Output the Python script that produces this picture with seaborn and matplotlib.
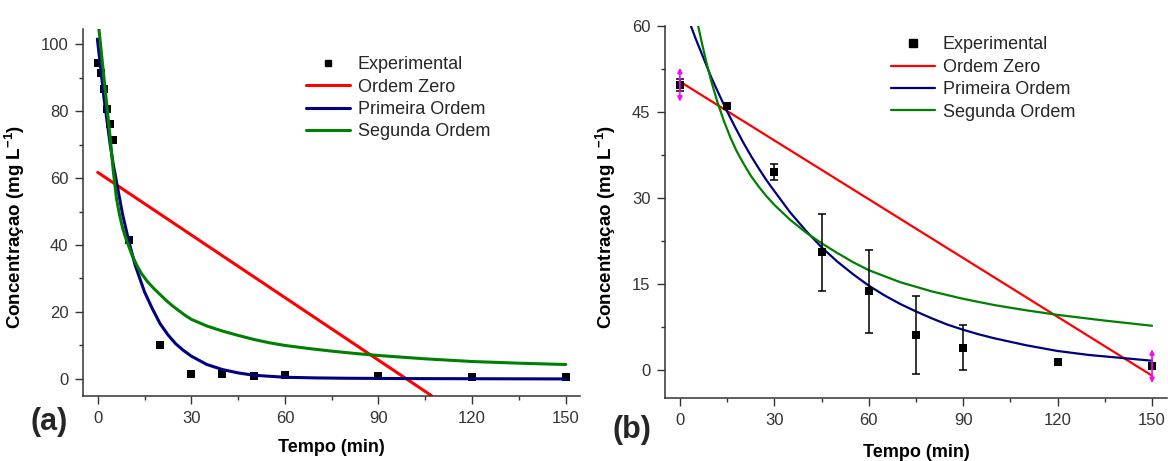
import numpy as np
import pandas as pd
import matplotlib
matplotlib.use("Agg")
import matplotlib.pyplot as plt
from matplotlib.ticker import MultipleLocator
from matplotlib.lines import Line2D
import seaborn as sns

sns.set_style("ticks")
plt.rcParams['font.family'] = ['Liberation Sans', 'DejaVu Sans']
plt.rcParams['mathtext.fontset'] = 'custom'
plt.rcParams['mathtext.rm'] = 'Liberation Sans'
plt.rcParams['mathtext.bf'] = 'Liberation Sans:bold'

# ---------------- Panel (a) data ----------------
a_exp_t = [0, 1, 2, 3, 4, 5, 10, 20, 30, 40, 50, 60, 90, 120, 150]
a_exp_c = [94.5, 91.4, 86.6, 80.7, 76.0, 71.4, 41.6, 10.1, 1.5, 1.5, 1.0, 1.3, 0.9, 0.6, 0.5]

a_zero_t = [0, 30, 60, 90, 107]
a_zero_c = [61.7, 43.0, 24.3, 5.6, -5.0]

a_first_t = [-0.1, 1, 2, 3, 4, 5, 6, 7, 8, 9, 10, 11, 12, 13.5, 15, 17.5, 20, 22.5, 25,
             27.5, 30, 35, 40, 45, 50, 55, 60, 70, 80, 100, 150]
a_first_c = [101.5, 92.5, 84, 77, 70, 64, 59, 54, 49, 45, 41, 37.5, 34, 30, 26, 21, 16.5,
             13.2, 10.5, 8.5, 6.8, 4.3, 2.8, 1.8, 1.1, 0.8, 0.5, 0.3, 0.2, 0.1, 0.0]

a_second_t = [0, 1, 2, 3, 4, 5, 6, 7, 8, 9, 10, 11, 12.5, 14, 16, 18, 20, 22, 24, 26, 28,
              30, 35, 40, 45, 50, 55, 60, 67.5, 75, 82.5, 90, 105, 120, 135, 150]
a_second_c = [108, 99, 90, 81, 72, 62, 54, 49, 45, 42, 39.5, 37, 34, 31.5, 29, 27, 25.2,
              23.4, 21.8, 20.4, 19, 17.8, 15.8, 14.3, 13, 11.8, 10.8, 10, 9.1, 8.3, 7.6,
              7, 6, 5.2, 4.7, 4.3]

# ---------------- Panel (b) data ----------------
b_exp_t = [0, 15, 30, 45, 60, 75, 90, 120, 150]
b_exp_c = [49.7, 46.1, 34.5, 20.5, 13.7, 6.1, 3.9, 1.3, 0.6]
b_exp_err = [1.0, 0.0, 1.4, 6.7, 7.2, 6.8, 4.0, 0.0, 0.0]

b_zero_t = [0, 50, 100, 150]
b_zero_c = [50.3, 33.2, 16.1, -1.0]

b_first_t = [3.5, 5, 7.5, 10, 12.5, 15, 17.5, 20, 22.5, 25, 27.5, 30, 35, 40, 45, 50, 55,
             60, 65, 70, 75, 80, 85, 90, 95, 100, 110, 120, 130, 140, 150]
b_first_c = [60, 57.8, 54.4, 51.0, 48.0, 45.1, 42.4, 39.8, 37.4, 35.2, 33.1, 31.2, 27.5,
             24.3, 21.4, 18.9, 16.7, 14.7, 13.0, 11.5, 10.2, 9.0, 7.9, 7.0, 6.2, 5.5, 4.3,
             3.3, 2.6, 2.1, 1.6]

b_second_t = [4.5, 5.8, 7, 8.5, 10, 12, 14, 16, 18, 20, 22.5, 25, 27.5, 30, 35, 40, 45,
              50, 55, 60, 70, 80, 90, 100, 110, 120, 135, 150]
b_second_c = [63.5, 60, 57, 53.5, 50.3, 46.6, 43.4, 40.6, 38.2, 36.2, 33.9, 32, 30.3,
              28.8, 26.2, 24, 22.1, 20.4, 18.8, 17.4, 15.3, 13.7, 12.4, 11.3, 10.4, 9.6,
              8.6, 7.7]

b_arrow_t = [0, 150]
b_arrow_lo = [46.8, -2.3]
b_arrow_hi = [52.7, 3.6]

labels = ["Experimental", "Ordem Zero", "Primeira Ordem", "Segunda Ordem"]
RED, BLUE, GREEN = "#FF0000", "#000080", "#008000"
TXT = "#333333"

fig = plt.figure(figsize=(11.68, 4.61), dpi=100)
axa = fig.add_axes([0.0711, 0.141, 0.4255, 0.796])
axb = fig.add_axes([0.5693, 0.1367, 0.4297, 0.8069])


def line(ax, t, c, color, lw):
    df = pd.DataFrame({"t": t, "c": c})
    sns.lineplot(data=df, x="t", y="c", ax=ax, color=color, linewidth=lw,
                 sort=False, estimator=None)


# ---- panel (a) ----
dfa = pd.DataFrame({"t": a_exp_t, "c": a_exp_c})
sns.scatterplot(data=dfa, x="t", y="c", ax=axa, marker="s", s=28, color="black",
                linewidth=0, zorder=1)
line(axa, a_zero_t, a_zero_c, RED, 2.2)
line(axa, a_first_t, a_first_c, BLUE, 2.2)
line(axa, a_second_t, a_second_c, GREEN, 2.2)
axa.set_xlim(-4.7, 154.6)
axa.set_ylim(-5.1, 104.5)
axa.xaxis.set_major_locator(MultipleLocator(30))
axa.xaxis.set_minor_locator(MultipleLocator(15))
axa.yaxis.set_major_locator(MultipleLocator(20))
axa.yaxis.set_minor_locator(MultipleLocator(10))

# ---- panel (b) ----
line(axb, b_zero_t, b_zero_c, RED, 1.6)
line(axb, b_first_t, b_first_c, BLUE, 1.6)
line(axb, b_second_t, b_second_c, GREEN, 1.6)
axb.errorbar(b_exp_t, b_exp_c, yerr=b_exp_err, fmt="none", ecolor="black",
             elinewidth=1.1, capsize=3, capthick=1.1, zorder=3)
dfb = pd.DataFrame({"t": b_exp_t, "c": b_exp_c})
sns.scatterplot(data=dfb, x="t", y="c", ax=axb, marker="s", s=40, color="black",
                linewidth=0, zorder=4)
for t, lo, hi in zip(b_arrow_t, b_arrow_lo, b_arrow_hi):
    axb.annotate("", xy=(t, hi), xytext=(t, lo),
                 arrowprops=dict(arrowstyle="<|-|>", color="magenta", lw=1.2,
                                 mutation_scale=7, shrinkA=0, shrinkB=0),
                 zorder=5)
axb.set_xlim(-4.75, 154.7)
axb.set_ylim(-4.9, 60)
axb.xaxis.set_major_locator(MultipleLocator(30))
axb.xaxis.set_minor_locator(MultipleLocator(15))
axb.yaxis.set_major_locator(MultipleLocator(15))
axb.yaxis.set_minor_locator(MultipleLocator(7.5))

for ax, lw, ms, lab_x, lab_y, xl_y, leg_anchor in [
        (axa, 2.2, 5.3, -0.113, 0.46, -0.117, (0.449, 0.926)),
        (axb, 1.6, 6.3, -0.093, 0.46, -0.124, (0.451, 0.972))]:
    sns.despine(ax=ax, top=True, right=True)
    for s in ("left", "bottom"):
        ax.spines[s].set_linewidth(1.1)
        ax.spines[s].set_color(TXT)
    ax.tick_params(which="major", direction="out", length=5.5, width=1.0,
                   color=TXT, labelsize=12, labelcolor=TXT, pad=5)
    ax.tick_params(which="minor", direction="out", length=3, width=1.0, color=TXT)
    ax.set_xlabel("Tempo (min)", fontsize=13, fontweight="bold", color="black")
    ax.set_ylabel(r"Concentraçao (mg L$^{\mathbf{-1}}$)", fontsize=13.5,
                  fontweight="bold", color="black")
    ax.xaxis.set_label_coords(0.5, xl_y)
    ax.yaxis.set_label_coords(lab_x, lab_y)
    handles = [Line2D([], [], marker="s", linestyle="none", color="black", markersize=ms - 0.5),
               Line2D([], [], color=RED, lw=lw),
               Line2D([], [], color=BLUE, lw=lw),
               Line2D([], [], color=GREEN, lw=lw)]
    ax.legend(handles, labels, loc="upper left", bbox_to_anchor=leg_anchor,
              frameon=False, fontsize=13, borderpad=0, borderaxespad=0,
              handlelength=2.4, handletextpad=0.45, labelspacing=0.3)

fig.text(30 / 1168, 1 - 421.7 / 461, "(a)", fontsize=22, fontweight="bold",
         ha="left", va="center")
fig.text(613 / 1168, 1 - 430 / 461, "(b)", fontsize=22, fontweight="bold",
         ha="left", va="center")

fig.savefig("out.png", dpi=100)
